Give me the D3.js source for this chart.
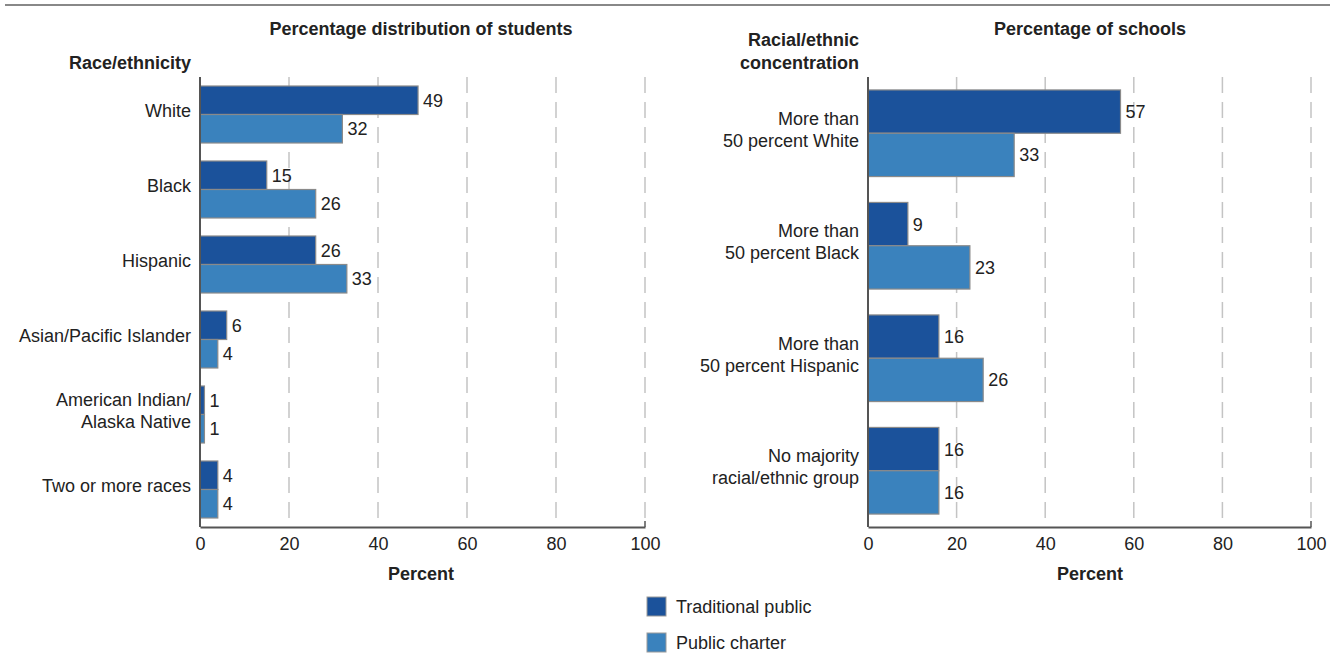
<!DOCTYPE html>
<html>
<head>
<meta charset="utf-8">
<script src="https://cdn.jsdelivr.net/npm/d3@7"></script>
<style>
  body { margin: 0; background: #fff; }
  svg text { font-family: "Liberation Sans", Arial, sans-serif; fill: #222; }
</style>
</head>
<body>
<div id="chart"></div>
<script>
// data
const raceCats = ["White", "Black", "Hispanic", "Asian/Pacific Islander", "American Indian/\nAlaska Native", "Two or more races"];
const raceTraditional = [49, 15, 26, 6, 1, 4];
const raceCharter = [32, 26, 33, 4, 1, 4];

const concCats = ["More than\n50 percent White", "More than\n50 percent Black", "More than\n50 percent Hispanic", "No majority\nracial/ethnic group"];
const concTraditional = [57, 9, 16, 16];
const concCharter = [33, 23, 26, 16];

const seriesNames = ["Traditional public", "Public charter"];
const colors = ["#1b529b", "#3a82bd"];
const xTicks = [0, 20, 40, 60, 80, 100];

const W = 1339, H = 656;
const FS = "18px";
const svg = d3.select("#chart").append("svg")
    .attr("width", W)
    .attr("height", H);

// top rule
svg.append("line")
    .attr("x1", 5).attr("x2", 1330)
    .attr("y1", 5).attr("y2", 5)
    .attr("stroke", "#888").attr("stroke-width", 2);

function panel(opts) {
    const top = 77, bottom = 527;
    const x = d3.scaleLinear().domain([0, 100]).range([opts.x0, opts.x1]);
    const y = d3.scaleBand().domain(opts.cats).range([top, bottom]).paddingInner(opts.pad).paddingOuter(opts.pad / 2);
    const sub = d3.scaleBand().domain([0, 1]).range([0, y.bandwidth()]);

    const g = svg.append("g");

    // dashed grid
    g.append("g")
        .selectAll("line")
        .data(xTicks.slice(1))
        .join("line")
        .attr("x1", d => x(d)).attr("x2", d => x(d))
        .attr("y1", top).attr("y2", bottom)
        .attr("stroke", "#c4c4c4")
        .attr("stroke-width", 1.5)
        .attr("stroke-dasharray", "16,9");

    // bars
    const rows = opts.cats.map((c, i) => ({ cat: c, vals: [opts.trad[i], opts.chart[i]] }));
    const grp = g.selectAll(".grp")
        .data(rows)
        .join("g")
        .attr("transform", d => `translate(0,${y(d.cat)})`);

    grp.selectAll("rect")
        .data(d => d.vals)
        .join("rect")
        .attr("x", x(0))
        .attr("y", (d, i) => sub(i))
        .attr("width", d => x(d) - x(0))
        .attr("height", sub.bandwidth())
        .attr("fill", (d, i) => colors[i])
        .attr("stroke", "#8a8a8a")
        .attr("stroke-width", 1.2);

    grp.selectAll("text.val")
        .data(d => d.vals)
        .join("text")
        .attr("class", "val")
        .attr("x", d => x(d) + 5)
        .attr("y", (d, i) => sub(i) + sub.bandwidth() / 2)
        .attr("dy", "0.36em")
        .style("font-size", FS)
        .text(d => d);

    // category labels (sit a little above the group centre)
    grp.each(function (d) {
        const lines = d.cat.split("\n");
        const t = d3.select(this).append("text")
            .attr("text-anchor", "end")
            .style("font-size", FS);
        lines.forEach((ln, k) => {
            t.append("tspan")
                .attr("x", opts.x0 - 9)
                .attr("y", y.bandwidth() / 2 - 4 + (k - (lines.length - 1) / 2) * 22)
                .attr("dy", "0.36em")
                .text(ln);
        });
    });

    // axes
    const xAxis = g.append("g")
        .attr("transform", `translate(0,${bottom})`)
        .call(d3.axisBottom(x).tickValues(xTicks).tickSize(0).tickPadding(10));
    xAxis.select(".domain").attr("stroke", "#555").attr("stroke-width", 2);
    xAxis.selectAll("text").style("font-size", FS).attr("fill", "#222");

    g.append("line")
        .attr("x1", x(0)).attr("x2", x(0))
        .attr("y1", top).attr("y2", bottom)
        .attr("stroke", "#555").attr("stroke-width", 2);
    g.append("line")
        .attr("x1", x(100)).attr("x2", x(100))
        .attr("y1", bottom - 6).attr("y2", bottom)
        .attr("stroke", "#555").attr("stroke-width", 1.5);

    // titles
    g.append("text")
        .attr("x", opts.titleX).attr("y", 35)
        .attr("text-anchor", "middle")
        .style("font-size", FS).style("font-weight", "bold")
        .text(opts.title);

    g.append("text")
        .attr("x", opts.titleX).attr("y", 580)
        .attr("text-anchor", "middle")
        .style("font-size", FS).style("font-weight", "bold")
        .text("Percent");

    const head = g.append("text")
        .attr("text-anchor", "end")
        .style("font-size", FS).style("font-weight", "bold");
    opts.head.forEach((ln, k) => {
        head.append("tspan")
            .attr("x", opts.x0 - 9)
            .attr("y", 69 - (opts.head.length - 1 - k) * 23)
            .text(ln);
    });
}

panel({
    x0: 200, x1: 645, cats: raceCats, trad: raceTraditional, chart: raceCharter,
    pad: 0.24, title: "Percentage distribution of students", titleX: 421,
    head: ["Race/ethnicity"]
});

panel({
    x0: 868, x1: 1311, cats: concCats, trad: concTraditional, chart: concCharter,
    pad: 0.23, title: "Percentage of schools", titleX: 1090,
    head: ["Racial/ethnic", "concentration"]
});

// legend
const leg = svg.append("g").attr("transform", "translate(647,597)");
seriesNames.forEach((s, i) => {
    leg.append("rect")
        .attr("x", 0).attr("y", i * 36)
        .attr("width", 19).attr("height", 19)
        .attr("fill", colors[i])
        .attr("stroke", "#999").attr("stroke-width", 1);
    leg.append("text")
        .attr("x", 29).attr("y", i * 36 + 10)
        .attr("dy", "0.36em")
        .style("font-size", FS)
        .text(s);
});
</script>
</body>
</html>
